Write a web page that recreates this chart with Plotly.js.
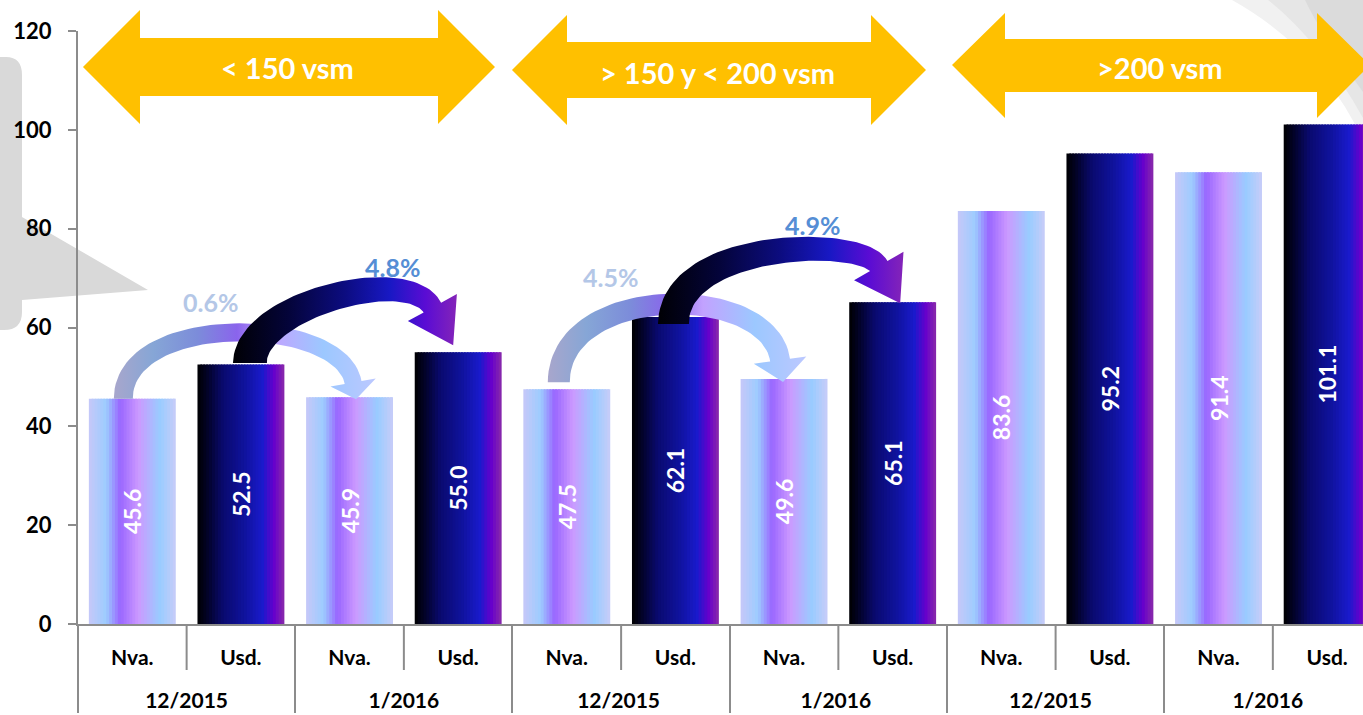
<!DOCTYPE html>
<html><head><meta charset="utf-8">
<script src="https://cdn.plot.ly/plotly-3.0.1.min.js"></script>
<style>html,body{margin:0;padding:0;background:#fff;overflow:hidden}#chart{width:1363px;height:715px}</style>
</head><body><div id="chart"></div>
<script>
// ---------- data ----------
const periods = ['12/2015', '1/2016', '12/2015 ', '1/2016 ', '12/2015  ', '1/2016  '];
const kinds = ['Nva.', 'Usd.'];
const nvaValues = [45.6, 45.9, 47.5, 49.6, 83.6, 91.4];
const usdValues = [52.5, 55.0, 62.1, 65.1, 95.2, 101.1];
const sizeBands = ['< 150 vsm', '> 150 y < 200 vsm', '>200 vsm'];
const changeLabels = ['0.6%', '4.8%', '4.5%', '4.9%'];
const yTicks = [0, 20, 40, 60, 80, 100, 120];

// ---------- styles ----------
const FONT = 'Lato, "Open Sans", "Liberation Sans", sans-serif';
const nvaStops = [[0,'#C6C8F8'],[0.2,'#9CCCFE'],[0.36,'#9966FF'],[0.57,'#CC99FF'],[0.82,'#99CCFF'],[1,'#C8CCF8']];
const usdStops = [[0,'#000000'],[0.12,'#03032A'],[0.3,'#0A0A70'],[0.55,'#10139E'],[0.75,'#1A1ACC'],[0.88,'#6600CC'],[1,'#8A2BA8']];
const lightArrow = [[0,'#A8A6CC'],[0.15,'#86A6D6'],[0.32,'#7C8CDA'],[0.47,'#8A64EC'],[0.6,'#C2A2FF'],[0.8,'#9CC8FF'],[1,'#BCC8FF']];
const darkArrow = [[0,'#000004'],[0.25,'#04043A'],[0.5,'#0C0C80'],[0.7,'#1818C4'],[0.86,'#5A0CD4'],[1,'#8424B8']];

function hex2rgb(h){return [parseInt(h.substr(1,2),16),parseInt(h.substr(3,2),16),parseInt(h.substr(5,2),16)];}
function interp(stops,t){
  for(let i=0;i<stops.length-1;i++){
    const a=stops[i],b=stops[i+1];
    if(t>=a[0]&&t<=b[0]){
      const f=(t-a[0])/(b[0]-a[0]);const ca=hex2rgb(a[1]),cb=hex2rgb(b[1]);
      return 'rgb('+ca.map((v,k)=>Math.round(v+(cb[k]-v)*f)).join(',')+')';
    }
  }
  return stops[stops.length-1][1];
}

// first-level labels padded with tall blank spans so the period row sits lower
const PADSPAN = "<span style='font-size:46px'>&nbsp;</span>";
const kindLabels = kinds.map(k => PADSPAN + k + PADSPAN);

// categories
const nvaX = [periods, periods.map(()=>kindLabels[0])];
const usdX = [periods, periods.map(()=>kindLabels[1])];
const allX0 = [], allX1 = [], allY = [];
periods.forEach((p,i)=>{allX0.push(p,p);allX1.push(kindLabels[0],kindLabels[1]);allY.push(nvaValues[i],usdValues[i]);});

const BW = 0.8, NS = 30;
const traces = [];
function addStrips(x, y, stops){
  for(let k=0;k<NS;k++){
    const c = interp(stops,(k+0.5)/NS);
    traces.push({type:'bar',x:x,y:y,offset:-BW/2+k*BW/NS,width:(k<NS-1?BW/NS*1.6:BW/NS),
      marker:{color:c,line:{width:0}},hoverinfo:'skip',showlegend:false});
  }
}
addStrips(nvaX, nvaValues, nvaStops);
addStrips(usdX, usdValues, usdStops);
traces.push({type:'bar',x:[allX0,allX1],y:allY,width:BW,
  marker:{color:'rgba(0,0,0,0)',line:{width:0}},
  text:allY.map(v=>v.toFixed(1)),textposition:'inside',insidetextanchor:'middle',textangle:-90,
  textfont:{family:FONT,size:23,color:'#FFFFFF',weight:'bold'},constraintext:'none',
  hoverinfo:'skip',showlegend:false});

// ---------- geometry helpers (pixel <-> axis) ----------
const PL=78, PR=1363, PT=31, PB=624, XMAX=11.33;
const SLOT=(PR-PL)/(XMAX+0.5), PPU=(PB-PT)/120;
function X(i){return PL+SLOT*(i+0.5);}
function Y(v){return PB-PPU*v;}
function toData(p){return [(p[0]-PL)/SLOT-0.5,(PB-p[1])/PPU];}
function pp(x,y){return ((x-PL)/(PR-PL)).toFixed(5)+','+((PB-y)/(PB-PT)).toFixed(5);}
function pathPaper(pts){return 'M'+pts.map(p=>pp(p[0],p[1])).join(' L')+' Z';}

// curved change arrows anchored to the bars they connect
const changeArrows = [
  {from:0,to:2,fv:nvaValues[0],tv:nvaValues[1],sdx:-9,sdy:0,tdx:6.5,tdy:2,dir:[3,17],hl:17,hw:46,w0:19,w1:17,rise:88,L:68,stops:lightArrow},
  {from:4,to:6,fv:nvaValues[2],tv:nvaValues[3],sdx:-8,sdy:-7,tdx:-1,tdy:3,dir:[3,22],hl:22,hw:53,w0:22,w1:20,rise:100,L:79,stops:lightArrow},
  {from:1,to:3,fv:usdValues[0],tv:usdValues[1],sdx:9,sdy:-1.5,tdx:-5,tdy:-7,dir:[21,38],hl:43,hw:56,w0:34,w1:20,rise:58,L:50,stops:darkArrow},
  {from:5,to:7,fv:usdValues[2],tv:usdValues[3],sdx:-2,sdy:7,tdx:7.5,tdy:1,dir:[21.5,37.5],hl:43,hw:57,w0:31,w1:20,rise:84,L:35,stops:darkArrow}
];
changeArrows.forEach(sp=>{
  const S=[X(sp.from)+sp.sdx,Y(sp.fv)+sp.sdy];
  const T=[X(sp.to)+sp.tdx,Y(sp.tv)+sp.tdy];
  const dl=Math.hypot(sp.dir[0],sp.dir[1]);const d=[sp.dir[0]/dl,sp.dir[1]/dl];
  const E=[T[0]-sp.hl*d[0],T[1]-sp.hl*d[1]];
  const P0=S,P1=[S[0],S[1]-sp.rise],P2=[E[0]-sp.L*d[0],E[1]-sp.L*d[1]],P3=E;
  const left=[],right=[];const n=60;
  for(let i=0;i<=n;i++){
    const t=i/n,u=1-t;
    const pt=[0,1].map(k=>u*u*u*P0[k]+3*u*u*t*P1[k]+3*u*t*t*P2[k]+t*t*t*P3[k]);
    let tg=[0,1].map(k=>3*u*u*(P1[k]-P0[k])+6*u*t*(P2[k]-P1[k])+3*t*t*(P3[k]-P2[k]));
    const tl=Math.hypot(tg[0],tg[1]);tg=[tg[0]/tl,tg[1]/tl];
    const nr=[-tg[1],tg[0]];const w=(sp.w0+(sp.w1-sp.w0)*t)/2;
    left.push([pt[0]+nr[0]*w,pt[1]+nr[1]*w]);right.push([pt[0]-nr[0]*w,pt[1]-nr[1]*w]);
  }
  const ne=[-d[1],d[0]];
  const poly=[...left,[E[0]+ne[0]*sp.hw/2,E[1]+ne[1]*sp.hw/2],T,[E[0]-ne[0]*sp.hw/2,E[1]-ne[1]*sp.hw/2],...right.reverse(),left[0]];
  const dd=poly.map(toData);
  traces.push({type:'scatter',xaxis:'x2',yaxis:'y',x:dd.map(p=>p[0]),y:dd.map(p=>p[1]),mode:'lines',
    line:{width:0,color:'rgba(0,0,0,0)'},fill:'toself',fillcolor:interp(sp.stops,0.5),
    fillgradient:{type:'horizontal',colorscale:sp.stops},hoverinfo:'skip',showlegend:false});
});

// ---------- decorations ----------
const shapes = [];
// background slide graphics
shapes.push({type:'path',xref:'paper',yref:'paper',layer:'below',line:{width:0},fillcolor:'#D9D9D9',
  path:'M'+pp(-5,57)+' L'+pp(6,57)+' Q'+pp(22,57)+' '+pp(22,75)+' L'+pp(22,217)+' L'+pp(148,290)+' L'+pp(22,300)+' L'+pp(22,312)+' Q'+pp(22,330)+' '+pp(4,330)+' L'+pp(-5,330)+' Z'});
[['#F1F1F1',1232,140],['#E6E6E6',1268,118],['#DBDBDB',1305,92]].forEach(a=>{
  shapes.push({type:'path',xref:'paper',yref:'paper',layer:'below',line:{width:0},fillcolor:a[0],
    path:'M'+pp(a[1],0)+' L'+pp(1363,0)+' L'+pp(1363,a[2])+' Q'+pp(1320,a[2]*0.35)+' '+pp(a[1],0)+' Z'});
});
// yellow double arrows
const bandArrows=[
  {l:83,r:495,hl:57,cy:67,ht:10,hb:124,st:38,sb:96},
  {l:512,r:926,hl:55,cy:70,ht:15,hb:125,st:42,sb:98},
  {l:952,r:1370,hl:53,cy:65,ht:13,hb:118,st:39,sb:92}
];
bandArrows.forEach(b=>{
  shapes.push({type:'path',xref:'paper',yref:'paper',layer:'above',line:{width:0},fillcolor:'#FFC000',
    path:pathPaper([[b.l,b.cy],[b.l+b.hl,b.ht],[b.l+b.hl,b.st],[b.r-b.hl,b.st],[b.r-b.hl,b.ht],[b.r,b.cy],[b.r-b.hl,b.hb],[b.r-b.hl,b.sb],[b.l+b.hl,b.sb],[b.l+b.hl,b.hb]])});
});
// short separators between Nva./Usd. within each period
for(let k=0;k<periods.length;k++){
  const xb=X(2*k+0.5);
  shapes.push({type:'line',xref:'paper',yref:'paper',x0:(xb-PL)/(PR-PL),x1:(xb-PL)/(PR-PL),y0:0,y1:-(670-PB)/(PB-PT),
    line:{color:'#8C8C8C',width:2}});
}

const annotations=[];
const bandText=[[288,68],[718,72],[1160,67]];
sizeBands.forEach((t,i)=>{
  const [x,y]=pp(bandText[i][0],bandText[i][1]).split(',').map(Number);
  annotations.push({xref:'paper',yref:'paper',x:x,y:y,text:t,showarrow:false,xanchor:'center',yanchor:'middle',
    font:{family:FONT,size:29,color:'#FFFFFF',weight:'bold'}});
});
const changePos=[[211,302,'#B4C7E7'],[392,267,'#558ED5'],[610,277,'#B4C7E7'],[813,225,'#558ED5']];
changeLabels.forEach((t,i)=>{
  const [x,y]=pp(changePos[i][0],changePos[i][1]).split(',').map(Number);
  annotations.push({xref:'paper',yref:'paper',x:x,y:y,text:t,showarrow:false,xanchor:'center',yanchor:'middle',
    font:{family:FONT,size:25,color:changePos[i][2],weight:'bold'}});
});

const layout={
  width:1363,height:715,margin:{l:PL,r:0,t:PT,b:715-PB,pad:0},
  paper_bgcolor:'#FFFFFF',plot_bgcolor:'rgba(0,0,0,0)',barmode:'overlay',showlegend:false,
  font:{family:FONT,color:'#000000'},
  xaxis:{type:'multicategory',range:[-0.5,XMAX],showline:true,linecolor:'#8C8C8C',linewidth:2,ticks:'',
    showdividers:true,dividercolor:'#8C8C8C',dividerwidth:2,showgrid:false,zeroline:false,fixedrange:true,
    ticklabelstandoff:14,tickfont:{family:FONT,size:21,color:'#000000',weight:'bold'}},
  xaxis2:{overlaying:'x',range:[-0.5,XMAX],visible:false,fixedrange:true},
  yaxis:{range:[0,120],tickmode:'array',tickvals:yTicks,ticktext:yTicks.map(String),ticks:'outside',ticklen:8,
    tickcolor:'#8C8C8C',tickwidth:2,showline:true,linecolor:'#8C8C8C',linewidth:2,showgrid:false,zeroline:false,
    fixedrange:true,ticklabelstandoff:12,tickfont:{family:FONT,size:22,color:'#000000',weight:'bold'}},
  shapes:shapes,annotations:annotations
};
Plotly.newPlot('chart',traces,layout,{displayModeBar:false,staticPlot:true});
</script></body></html>
